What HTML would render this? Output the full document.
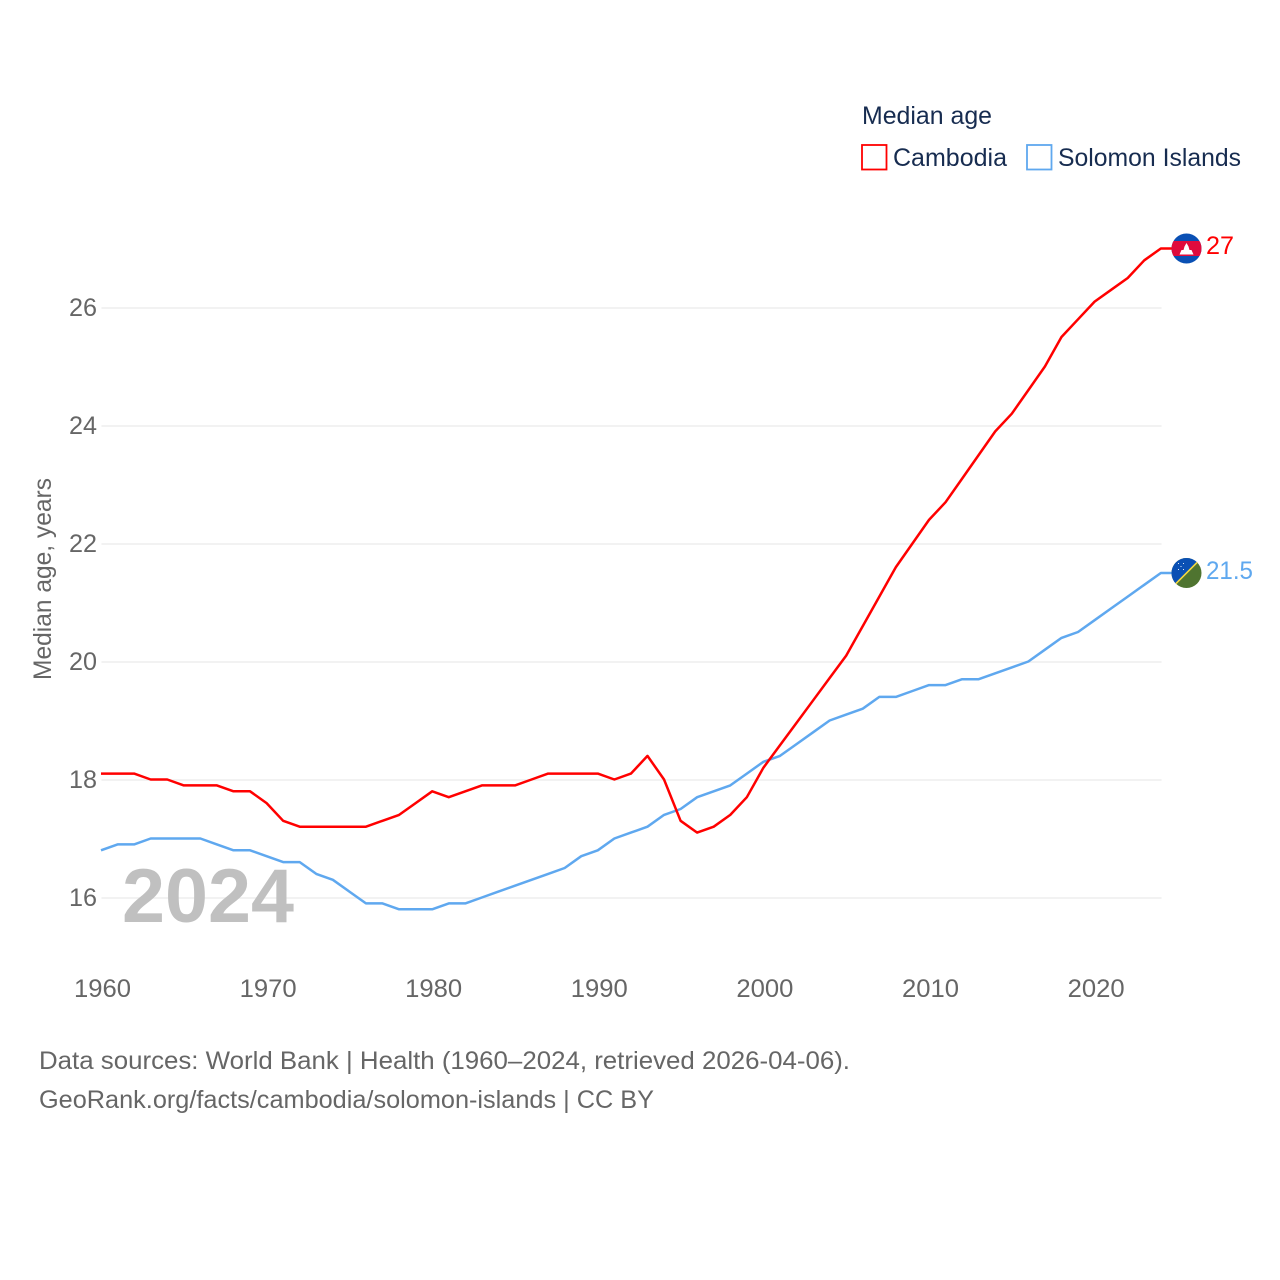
<!DOCTYPE html>
<html lang="en">
<head>
<meta charset="utf-8">
<title>Median age: Cambodia and Solomon Islands</title>
<style>
html,body{margin:0;padding:0;background:#fff;width:1280px;height:1280px;overflow:hidden}
svg{display:block}
text{font-family:"Liberation Sans",sans-serif}
</style>
</head>
<body>
<svg id="chart" xmlns="http://www.w3.org/2000/svg" width="1280" height="1280" viewBox="0 0 1280 1280">
  <defs>
    <clipPath id="clip-a"><circle cx="1186.500" cy="248.500" r="15"/></clipPath>
    <clipPath id="clip-b"><circle cx="1186.500" cy="573" r="15"/></clipPath>
  </defs>
  <g id="grid"></g>
  <g id="y-ticks"></g>
  <g id="x-ticks"></g>
  <text transform="translate(51,680) rotate(-90)" font-size="25" fill="#666" textLength="202" lengthAdjust="spacingAndGlyphs">Median age, years</text>
  <text x="122" y="922" font-size="76" font-weight="700" fill="#c0c0c0" textLength="172" lengthAdjust="spacingAndGlyphs">2024</text>
  <g id="series"></g>

  <g clip-path="url(#clip-a)">
    <rect x="1171" y="233" width="31" height="31" fill="#0a50b4"/>
    <rect x="1171" y="241" width="31" height="15" fill="#e00b3c"/>
    <polygon points="1179.500,254.500 1181.500,250 1183.500,250 1184.500,246.500 1186.500,243 1188.500,246.500 1189.500,250 1191.500,250 1193.500,254.500" fill="#fff"/>
  </g>
  <g clip-path="url(#clip-b)">
    <rect x="1171" y="558" width="31" height="30" fill="#4f7430"/>
    <polygon points="1171,558 1202,558 1171,589" fill="#0a50b4"/>
    <line x1="1170" y1="589.500" x2="1203" y2="556.500" stroke="#f5d840" stroke-width="1.600"/>
    <g fill="#dfe8f5">
      <rect x="1178" y="563" width="1" height="1"/><rect x="1183" y="563" width="1" height="1"/>
      <rect x="1180.500" y="566" width="1" height="1"/>
      <rect x="1178" y="569" width="1" height="1"/><rect x="1183" y="569" width="1" height="1"/>
    </g>
  </g>
  <text x="1206" y="254" font-size="25" fill="#ff0000" textLength="28" lengthAdjust="spacingAndGlyphs">27</text>
  <text x="1206" y="579" font-size="25" fill="#5fa8ef" textLength="47" lengthAdjust="spacingAndGlyphs">21.5</text>

  <g>
    <text x="862" y="124" font-size="25" fill="#172c50" textLength="130" lengthAdjust="spacingAndGlyphs">Median age</text>
    <rect x="862" y="145" width="24.500" height="24.500" fill="#fff" stroke="#ff0000" stroke-width="1.800"/>
    <text x="893" y="166" font-size="25" fill="#172c50" textLength="114" lengthAdjust="spacingAndGlyphs">Cambodia</text>
    <rect x="1027" y="145" width="24.500" height="24.500" fill="#fff" stroke="#5fa8ef" stroke-width="1.800"/>
    <text x="1058" y="166" font-size="25" fill="#172c50" textLength="183" lengthAdjust="spacingAndGlyphs">Solomon Islands</text>
  </g>

  <text x="39" y="1069" font-size="25" fill="#666" textLength="811" lengthAdjust="spacingAndGlyphs">Data sources: World Bank | Health (1960–2024, retrieved 2026-04-06).</text>
  <text x="39" y="1108" font-size="25" fill="#666" textLength="615" lengthAdjust="spacingAndGlyphs">GeoRank.org/facts/cambodia/solomon-islands | CC BY</text>
</svg>
<script>
const startYear = 1960;
const yTickValues = [16, 18, 20, 22, 24, 26];
const xTickValues = [1960, 1970, 1980, 1990, 2000, 2010, 2020];
const cambodiaValues = [18.1,18.1,18.1,18.0,18.0,17.9,17.9,17.9,17.8,17.8,17.6,17.3,17.2,17.2,17.2,17.2,17.2,17.3,17.4,17.6,17.8,17.7,17.8,17.9,17.9,17.9,18.0,18.1,18.1,18.1,18.1,18.0,18.1,18.4,18.0,17.3,17.1,17.2,17.4,17.7,18.2,18.58,18.96,19.34,19.72,20.1,20.6,21.1,21.6,22.0,22.4,22.7,23.1,23.5,23.9,24.2,24.6,25.0,25.5,25.8,26.1,26.3,26.5,26.8,27.0];
const solomonValues = [16.8,16.9,16.9,17.0,17.0,17.0,17.0,16.9,16.8,16.8,16.7,16.6,16.6,16.4,16.3,16.1,15.9,15.9,15.8,15.8,15.8,15.9,15.9,16.0,16.1,16.2,16.3,16.4,16.5,16.7,16.8,17.0,17.1,17.2,17.4,17.5,17.7,17.8,17.9,18.1,18.3,18.4,18.6,18.8,19.0,19.1,19.2,19.4,19.4,19.5,19.6,19.6,19.7,19.7,19.8,19.9,20.0,20.2,20.4,20.5,20.7,20.9,21.1,21.3,21.5];

const NS = 'http://www.w3.org/2000/svg';
function xScale(year) { return 101 + (year - 1960) * 16.56; }
function yScale(v) { return 897.5 - (v - 16) * 59; }

const grid = document.getElementById('grid');
const yTicks = document.getElementById('y-ticks');
const xTicks = document.getElementById('x-ticks');
const seriesGroup = document.getElementById('series');

yTickValues.forEach(function (v) {
  const gridY = Math.ceil(yScale(v));
  const line = document.createElementNS(NS, 'line');
  
  
  line.setAttribute('x1', 101.5);
  line.setAttribute('x2', 1161.5);
  line.setAttribute('y1', gridY);
  line.setAttribute('y2', gridY);
  line.setAttribute('stroke', '#eeeeee');
  line.setAttribute('stroke-width', '1.600');
  grid.appendChild(line);

  const label = document.createElementNS(NS, 'text');
  
  
  label.setAttribute('x', 97);
  label.setAttribute('y', yScale(v) + 8.5);
  label.setAttribute('text-anchor', 'end');
  label.setAttribute('font-size', '25');
  label.setAttribute('fill', '#666');
  label.setAttribute('textLength', '28');
  label.setAttribute('lengthAdjust', 'spacingAndGlyphs');
  label.textContent = v;
  yTicks.appendChild(label);
});

xTickValues.forEach(function (year) {
  const label = document.createElementNS(NS, 'text');
  
  
  label.setAttribute('x', xScale(year) + 1.5);
  label.setAttribute('y', 997);
  label.setAttribute('text-anchor', 'middle');
  label.setAttribute('font-size', '25');
  label.setAttribute('fill', '#666');
  label.setAttribute('textLength', '57');
  label.setAttribute('lengthAdjust', 'spacingAndGlyphs');
  label.textContent = year;
  xTicks.appendChild(label);
});

function linePoints(values) {
  const pts = values.map(function (v, i) {
    return xScale(startYear + i).toFixed(2) + ',' + yScale(v).toFixed(2);
  });
  pts.push('1172,' + yScale(values[values.length - 1]).toFixed(2));
  return pts.join(' ');
}

const solomonLine = document.createElementNS(NS, 'polyline');


solomonLine.setAttribute('points', linePoints(solomonValues));
solomonLine.setAttribute('fill', 'none');
solomonLine.setAttribute('stroke', '#5fa8ef');
solomonLine.setAttribute('stroke-width', '2.500');
solomonLine.setAttribute('stroke-linejoin', 'round');
seriesGroup.appendChild(solomonLine);

const cambodiaLine = document.createElementNS(NS, 'polyline');


cambodiaLine.setAttribute('points', linePoints(cambodiaValues));
cambodiaLine.setAttribute('fill', 'none');
cambodiaLine.setAttribute('stroke', '#ff0000');
cambodiaLine.setAttribute('stroke-width', '2.500');
cambodiaLine.setAttribute('stroke-linejoin', 'round');
seriesGroup.appendChild(cambodiaLine);
</script>
</body>
</html>
